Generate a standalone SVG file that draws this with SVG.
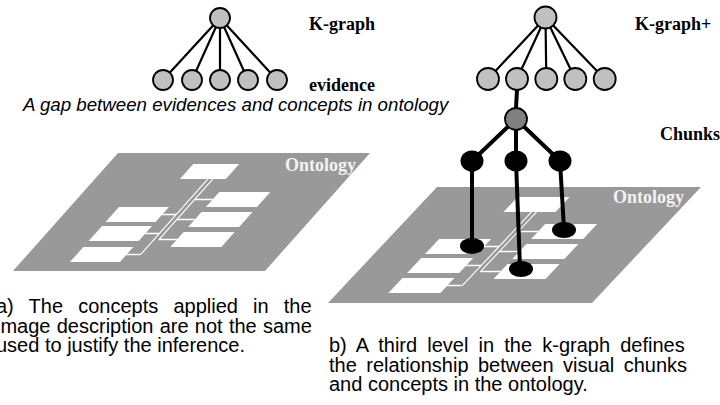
<svg xmlns="http://www.w3.org/2000/svg" width="720" height="405" viewBox="0 0 720 405">
<style>
.lbl{font-family:"Liberation Serif","Times New Roman",serif;font-weight:bold;font-size:18px;fill:#000}
.ont{font-family:"Liberation Serif","Times New Roman",serif;font-weight:bold;font-size:18px;fill:#f2f2f2}
.cap{font-family:"Liberation Sans",Arial,sans-serif;font-size:20px;fill:#000}
.gap{font-family:"Liberation Sans",Arial,sans-serif;font-size:18.7px;font-style:italic;fill:#000}
.plane{fill:#999999}
.box{fill:#ffffff}
.wl{fill:none;stroke:#ffffff;stroke-width:1.5}
.edge{stroke:#000;stroke-width:2.2;fill:none}
.thick{stroke:#000;stroke-width:4;fill:none}
.ev{fill:#c0c0c0;stroke:#000;stroke-width:1.8}
.mid{fill:#808080;stroke:#000;stroke-width:1.8}
.chunk{fill:#000}
</style>
<rect width="720" height="405" fill="#fff"/>

<!-- Left ontology plane -->
<g id="ontology-left" transform="translate(118,153) skewX(-41.67)">
  <rect class="plane" x="0" y="0" width="252" height="118"/>
  <rect class="box" x="85" y="11" width="46" height="15"/>
  <rect class="box" x="136" y="39" width="51" height="15"/>
  <rect class="box" x="136" y="59" width="51" height="15"/>
  <rect class="box" x="136" y="79" width="51" height="15"/>
  <rect class="box" x="49" y="54" width="50" height="15"/>
  <rect class="box" x="49" y="73" width="50" height="15"/>
  <rect class="box" x="49" y="94" width="50" height="15"/>
  <path class="wl" d="M113,26 V101.5 M113,61.5 H99 M113,80.5 H99 M113,101.5 H99"/>
  <path class="wl" d="M118,26 V86.5 M118,46.5 H136 M118,66.5 H136 M118,86.5 H136"/>
</g>
<text class="ont" x="285" y="171">Ontology</text>

<!-- Right ontology plane -->
<g id="ontology-right" transform="translate(437,187) skewX(-43.23)">
  <rect class="plane" x="0" y="0" width="264" height="116"/>
  <rect class="box" x="90" y="10" width="52" height="15"/>
  <rect class="box" x="143" y="37" width="52" height="15"/>
  <rect class="box" x="143" y="57" width="52" height="15"/>
  <rect class="box" x="143" y="77" width="52" height="15"/>
  <rect class="box" x="51" y="52" width="52" height="15"/>
  <rect class="box" x="51" y="71" width="52" height="15"/>
  <rect class="box" x="51" y="91" width="52" height="15"/>
  <path class="wl" d="M118,25 V98.5 M118,59.5 H103 M118,78.5 H103 M118,98.5 H103"/>
  <path class="wl" d="M123,25 V84.5 M123,44.5 H143 M123,64.5 H143 M123,84.5 H143"/>
</g>
<text class="ont" x="613" y="203">Ontology</text>

<!-- Connectors -->
<g id="connectors">
  <path class="edge" d="M220,18 L163,80 M220,18 L192,80 M220,18 L220,80 M220,18 L248,80 M220,18 L277,80"/>
  <path class="edge" d="M545.5,17.5 L488,79 M545.5,17.5 L517,79 M545.5,17.5 L546.3,79 M545.5,17.5 L575.3,79 M545.5,17.5 L604.7,79"/>
  <path class="thick" d="M517,90 L516,108"/>
  <path class="thick" d="M516,119 L472,161 M516,119 L516,161 M516,119 L560,161"/>
  <path class="thick" d="M472,161 L472,246 M516,161 L520,268 M560,161 L564,229"/>
</g>

<!-- Left k-graph nodes -->
<g id="k-root-left"><circle class="ev" cx="220" cy="18" r="10"/></g>
<g id="ev-left-1"><circle class="ev" cx="163" cy="80" r="10"/></g>
<g id="ev-left-2"><circle class="ev" cx="192" cy="80" r="10"/></g>
<g id="ev-left-3"><circle class="ev" cx="220" cy="80" r="10"/></g>
<g id="ev-left-4"><circle class="ev" cx="248" cy="80" r="10"/></g>
<g id="ev-left-5"><circle class="ev" cx="277" cy="80" r="10"/></g>

<!-- Right k-graph nodes -->
<g id="k-root-right"><circle class="ev" cx="545.5" cy="17.5" r="11"/></g>
<g id="ev-right-1"><circle class="ev" cx="488" cy="79" r="11"/></g>
<g id="ev-right-2"><circle class="ev" cx="517" cy="79" r="11"/></g>
<g id="ev-right-3"><circle class="ev" cx="546.3" cy="79" r="11"/></g>
<g id="ev-right-4"><circle class="ev" cx="575.3" cy="79" r="11"/></g>
<g id="ev-right-5"><circle class="ev" cx="604.7" cy="79" r="11"/></g>
<g id="chunk-hub"><circle class="mid" cx="516" cy="119" r="11"/></g>
<g id="chunk-1"><ellipse class="chunk" cx="472" cy="161" rx="11.5" ry="10.5"/></g>
<g id="chunk-2"><ellipse class="chunk" cx="516" cy="161" rx="11.5" ry="10.5"/></g>
<g id="chunk-3"><ellipse class="chunk" cx="560" cy="161" rx="11.5" ry="10.5"/></g>
<g id="concept-1"><ellipse class="chunk" cx="472" cy="246" rx="12" ry="8"/></g>
<g id="concept-2"><ellipse class="chunk" cx="521" cy="269" rx="12" ry="8"/></g>
<g id="concept-3"><ellipse class="chunk" cx="564" cy="230" rx="12" ry="8"/></g>

<!-- Labels -->
<text class="lbl" x="309" y="30">K-graph</text>
<text class="lbl" x="309" y="91">evidence</text>
<text class="lbl" x="635" y="30">K-graph+</text>
<text class="lbl" x="660" y="140">Chunks</text>
<text class="gap" x="23" y="111">A gap between evidences and concepts in ontology</text>

<text class="cap" x="-4" y="313" word-spacing="9.6">a) The concepts applied in the</text>
<text class="cap" x="-4" y="332.5" word-spacing="0.7">image description are not the same</text>
<text class="cap" x="-4" y="352">used to justify the inference.</text>

<text class="cap" x="329" y="352" word-spacing="4.6">b) A third level in the k-graph defines</text>
<text class="cap" x="329" y="371.5" word-spacing="3.9">the relationship between visual chunks</text>
<text class="cap" x="329" y="391">and concepts in the ontology.</text>
</svg>
